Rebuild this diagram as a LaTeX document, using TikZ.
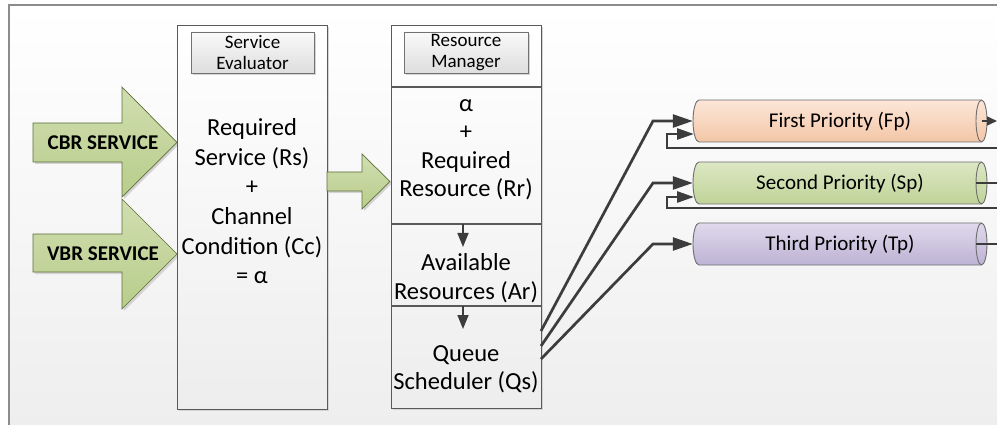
\documentclass[tikz,border=0pt]{standalone}
\usepackage{fontspec}
\setmainfont{Carlito}
\usetikzlibrary{arrows.meta}

\definecolor{ink}{HTML}{1A1A1A}
\definecolor{edgec}{HTML}{595959}
\definecolor{connc}{HTML}{3C3C3C}
\definecolor{framec}{HTML}{8C8C8C}
\definecolor{bgbottom}{HTML}{EEEEEE}
\definecolor{shadowc}{HTML}{D4D4D4}
\definecolor{grnA}{HTML}{D0DEB0}
\definecolor{grnB}{HTML}{B8CD8B}
\definecolor{grnE}{HTML}{5E6E3A}
\definecolor{peachA}{HTML}{FCE6D8}
\definecolor{peachB}{HTML}{F3C6A6}
\definecolor{sageA}{HTML}{DCE7C4}
\definecolor{sageB}{HTML}{C0D398}
\definecolor{lilacA}{HTML}{E0DAEC}
\definecolor{lilacB}{HTML}{BDB2D4}
\definecolor{cylE}{HTML}{6E6E6E}

% draws a horizontal cylinder of 294 x 42 centred at (#2,#3) and names it #1
\newcommand\queuecyl[6]{%
  \path[draw=cylE, line width=0.9pt, top color=#4, bottom color=#5]
    ({#2-141},{#3-21}) -- ({#2+141.5},{#3-21})
    arc[start angle=-90, end angle=90, x radius=5.5, y radius=21]
    -- ({#2-141},{#3+21})
    arc[start angle=90, end angle=270, x radius=6, y radius=21] -- cycle;
  \draw[cylE, line width=0.9pt] ({#2+141.5},{#3-21})
    arc[start angle=270, end angle=90, x radius=5.5, y radius=21];
  \node[cyltext] (#1) at (#2,#3) {#6};%
}

\begin{document}
\begin{tikzpicture}[x=1pt, y=-1pt,
  panel/.style={draw=edgec, line width=0.9pt, top color=white, bottom color=white!93!black,
    inner sep=0pt},
  tagbox/.style={draw=edgec!85, line width=0.8pt, top color=white!98!black,
    bottom color=white!87!black, minimum width=123, minimum height=41, inner sep=0pt,
    align=center, font=\fontsize{19}{21.5}\selectfont},
  bigtext/.style={align=center, inner sep=0pt, font=\fontsize{24.5}{29.6}\selectfont},
  rmtext/.style={align=center, inner sep=0pt, font=\fontsize{24.5}{28.3}\selectfont},
  blockarrow/.style={draw=grnE, line width=0.7pt, top color=grnA, bottom color=grnB},
  blockshadow/.style={fill=shadowc},
  svclabel/.style={inner sep=0pt, font=\fontsize{21}{25}\selectfont\bfseries},
  cyltext/.style={minimum width=294, minimum height=42, inner sep=0pt,
    text height=13.6pt, text depth=0pt, font=\fontsize{21}{24}\selectfont},
  feed/.style={draw=connc, line width=2.7pt, -{Triangle[length=20pt,width=13pt]}},
  loopback/.style={draw=connc, line width=2.7pt, -{Triangle[length=17pt,width=11pt]}},
  stepdown/.style={draw=connc, line width=1.6pt, -{Triangle[length=14pt,width=11pt]}},
  outline/.style={draw=connc, line width=1.5pt},
  outarrow/.style={draw=connc, line width=1.5pt, -{Triangle[length=10pt,width=9pt]}},
  divider/.style={draw=edgec, line width=1.4pt}
]
\useasboundingbox (0,0) rectangle (997,425);
\clip (0,0) rectangle (997,425);

% page and surrounding frame
\fill[white] (0,0) rectangle (997,425);
\shade[top color=white, bottom color=bgbottom] (9,5) rectangle (1000,428);
\draw[framec, line width=1.6pt] (9,428) -- (9,5) -- (1000,5);

% ---------- input services ----------
\fill[blockshadow] (35,125) -- (124,125) -- (124,89) -- (179,144.5) -- (124,199) -- (124,164) -- (35,164) -- cycle;
\path[blockarrow] (33,123) -- (122,123) -- (122,87) -- (177,142.5) -- (122,197) -- (122,162) -- (33,162) -- cycle;
\node[svclabel] (cbr) at (103,142.5) {CBR SERVICE};

\fill[blockshadow] (35,236) -- (124,236) -- (124,201) -- (179,256) -- (124,311) -- (124,274) -- (35,274) -- cycle;
\path[blockarrow] (33,234) -- (122,234) -- (122,199) -- (177,254) -- (122,309) -- (122,272) -- (33,272) -- cycle;
\node[svclabel] (vbr) at (103,253.5) {VBR SERVICE};

% ---------- service evaluator ----------
\fill[shadowc] (179,27) rectangle (329,411);
\node[panel, minimum width=150, minimum height=384] (se) at (252,217) {};
\fill[shadowc] (193,34) rectangle (316,75);
\node[tagbox] (setag) at (252.5,52.5) {Service\\Evaluator};
\node[bigtext, anchor=north] (setext) at (252,118.5)
  {Required\\Service (Rs)\\+\\Channel\\Condition (Cc)\\= α};

% evaluator to manager
\fill[blockshadow] (329,174) -- (364,174) -- (364,156) -- (392,183.5) -- (364,211) -- (364,193) -- (329,193) -- cycle;
\path[blockarrow] (327,172) -- (362,172) -- (362,154) -- (390,181.5) -- (362,209) -- (362,191) -- (327,191) -- cycle;

% ---------- resource manager ----------
\fill[shadowc] (393,27) rectangle (543,410);
\node[panel, minimum width=150, minimum height=383] (rm) at (466,216.5) {};
\fill[shadowc] (406,34) rectangle (530,75);
\node[tagbox, minimum width=124] (rmtag) at (466,52.5) {Resource\\Manager};
\draw[divider] (391,87) -- (541,87);
\draw[divider] (391,224) -- (541,224);
\draw[divider] (391,306) -- (541,306);

\node[rmtext, anchor=north] (rrtext) at (466,99.5)
  {α\\+\\Required\\Resource (Rr)};
\node[rmtext, anchor=north] (artext) at (466,253.5)
  {Available\\Resources (Ar)};
\node[rmtext, anchor=north] (qstext) at (466,345.5)
  {Queue\\Scheduler (Qs)};

\coordinate (ra) at (463,224);
\coordinate (rb) at (463,247);
\coordinate (ac) at (463,306);
\coordinate (ad) at (463,329);
\draw[stepdown] (ra) -- (rb);
\draw[stepdown] (ac) -- (ad);

% ---------- priority queues ----------
\queuecyl{fp}{840}{121}{peachA}{peachB}{First Priority (Fp)}
\queuecyl{sp}{840}{183}{sageA}{sageB}{Second Priority (Sp)}
\queuecyl{tp}{840}{244}{lilacA}{lilacB}{Third Priority (Tp)}

% scheduler to queues
\coordinate (q1) at (541,331);
\coordinate (q2) at (541,346);
\coordinate (q3) at (541,359);
\coordinate (k1) at (653,121);
\coordinate (k2) at (653,183);
\coordinate (k3) at (653,244);
\draw[feed] (q1) -- (k1) -- (fp.west);
\draw[feed] (q2) -- (k2) -- (sp.west);
\draw[feed] (q3) -- (k3) -- (tp.west);

% re-queue loops
\coordinate (f1) at (1000,148);
\coordinate (f1c) at (667,134);
\coordinate (f1in) at (694,134);
\draw[loopback] (f1) -| (f1c) -- (f1in);
\coordinate (f2) at (1000,208);
\coordinate (f2c) at (667,197);
\coordinate (f2in) at (694,197);
\draw[loopback] (f2) -| (f2c) -- (f2in);

% queue outputs
\coordinate (o1) at (981.5,121);
\coordinate (o1e) at (997,121);
\coordinate (o2) at (976,183);
\coordinate (o2e) at (1000,183);
\coordinate (o3) at (976,244);
\coordinate (o3e) at (1000,244);
\draw[outarrow] (o1) -- (o1e);
\draw[outline] (o2) -- (o2e);
\draw[outline] (o3) -- (o3e);
\end{tikzpicture}
\end{document}
